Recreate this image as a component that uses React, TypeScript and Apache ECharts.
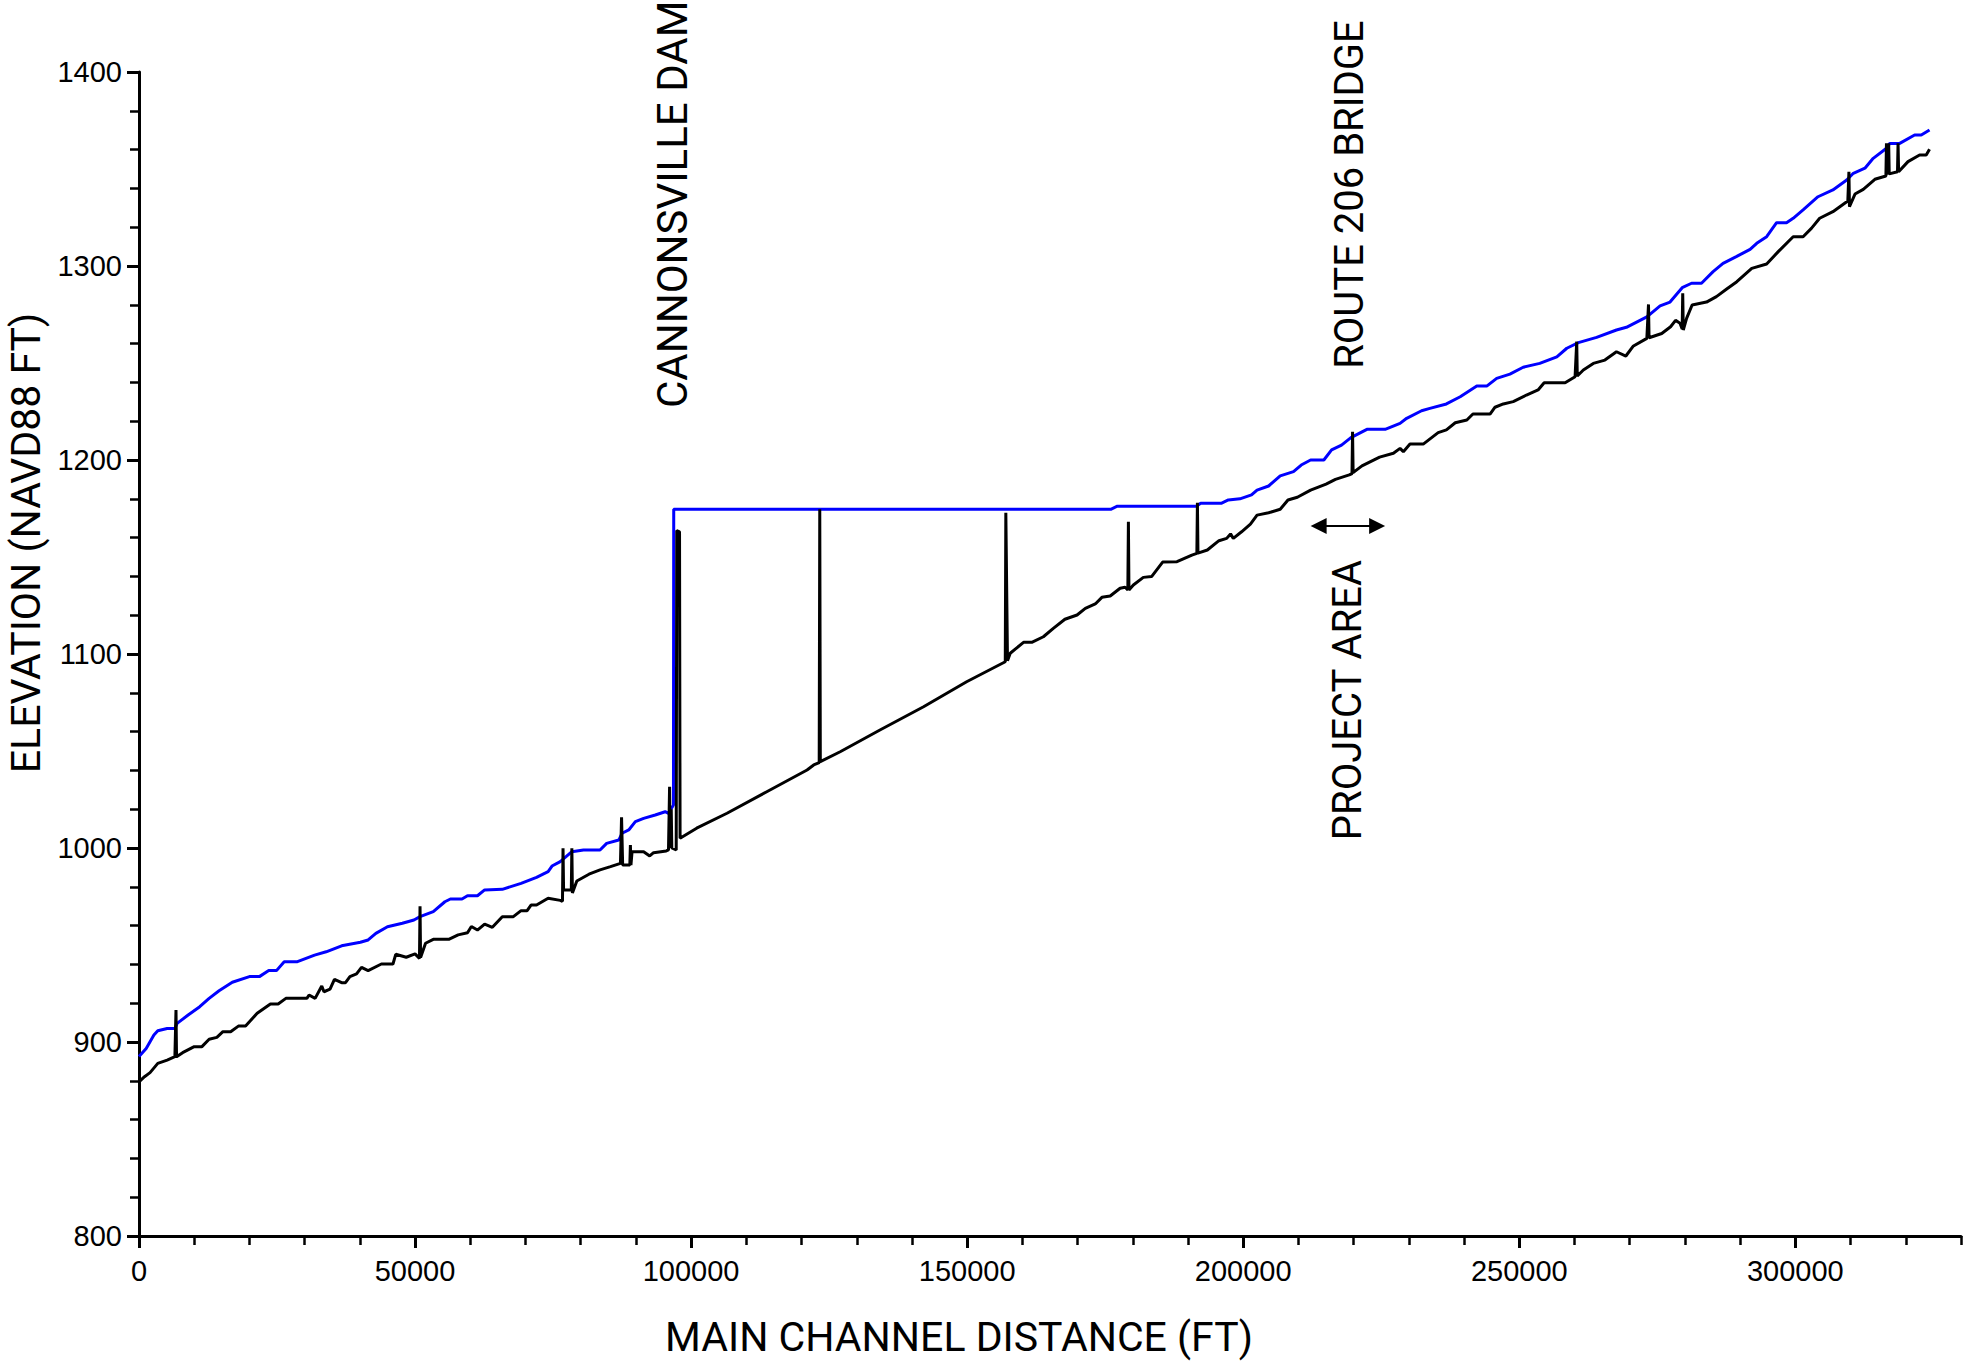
import React, { useEffect, useRef } from "react";
import * as echarts from "echarts";

// Water surface profile (blue): [main channel distance (ft), elevation (ft)]
const waterSurface: [number, number][] = [
  [0, 892.5], [1300, 896.7], [2700, 903.6], [3400, 905.8], [5100, 907], [6500, 907], [6900, 909.6],
  [8900, 913.9], [11000, 918.2], [12700, 922.5], [14500, 926.4], [16900, 930.8], [20000, 933.7],
  [21800, 933.7], [23500, 936.8], [24900, 936.8], [26300, 941.4], [28700, 941.4], [31800, 944.8],
  [33900, 946.5], [36700, 949.6], [40100, 951.4], [41500, 952.6], [42900, 956], [45000, 959.4],
  [47700, 961.2], [49800, 962.9], [50900, 964.6], [53300, 967.2], [55400, 972.3], [56400, 973.7],
  [58500, 973.7], [59500, 975.4], [61300, 975.4], [62600, 978.4], [65800, 978.7], [69200, 981.8],
  [72000, 984.9], [74100, 987.8], [74800, 990.7], [76300, 993], [78400, 998.1], [80500, 999],
  [83500, 999], [84700, 1002.4], [86900, 1004.1], [87500, 1007.6], [88700, 1009.3], [89900, 1013.6],
  [91400, 1015.3], [93500, 1017], [95300, 1018.7], [95900, 1017.9], [96800, 1022.2], [96850, 1174.6],
  [176000, 1174.6], [177200, 1176.2], [191500, 1176.2], [192300, 1177.7], [196000, 1177.7],
  [197300, 1179.4], [199400, 1180], [201500, 1182], [202500, 1184.5], [204600, 1186.6],
  [206700, 1191.8], [209100, 1194], [210500, 1197.4], [212200, 1200], [214600, 1200], [216000, 1205.2],
  [217800, 1207.7], [219500, 1211.5], [222400, 1215.8], [225700, 1215.8], [228400, 1218.9],
  [229600, 1221.5], [232300, 1225.4], [233800, 1226.6], [236800, 1228.9], [239300, 1232.6],
  [242300, 1238.1], [244100, 1238.1], [245900, 1242.1], [248300, 1244.3], [250700, 1247.8],
  [253700, 1249.8], [256800, 1253.2], [258600, 1257.6], [260700, 1260.5], [264000, 1263.2],
  [267600, 1267], [269400, 1268.4], [273100, 1273.8], [275500, 1279.4], [277300, 1281.4],
  [279500, 1288.8], [281200, 1291.1], [283000, 1291.1], [285100, 1297.1], [286900, 1301.4],
  [289300, 1304.8], [291800, 1308.6], [293000, 1311.7], [294800, 1315.1], [296600, 1322.3],
  [298400, 1322.3], [299600, 1324.6], [301400, 1328.9], [304100, 1335.7], [306800, 1339.2],
  [309300, 1344.3], [310500, 1347.8], [312600, 1350.4], [314100, 1355.5], [316500, 1360.7],
  [317100, 1363.2], [318900, 1363.2], [321600, 1367.5], [322800, 1367.5], [324300, 1370.1],
];

// Channel bed / structure profile (black): [distance (ft), elevation (ft)]
const channelBed: [number, number][] = [
  [0, 879.5], [1000, 882.1], [2000, 884.2], [3400, 889], [5100, 890.7], [6500, 892.4], [6700, 916.5],
  [6800, 892.4], [7900, 894.5], [10000, 897.6], [11400, 897.6], [12700, 901.4], [14100, 902.4],
  [15200, 905.3], [16600, 905.3], [18000, 908.2], [19300, 908.2], [21400, 914.8], [23800, 919.6],
  [25200, 919.6], [26600, 922.5], [30400, 922.5], [30800, 924.2], [31900, 922.5], [33100, 928.9],
  [33500, 925.9], [34600, 927.2], [35400, 932.3], [36700, 930.6], [37400, 930.6], [38200, 933.7],
  [39400, 935.1], [40300, 938.5], [41500, 936.8], [43900, 940.2], [46000, 940.2], [46500, 945.2],
  [48400, 943.7], [50000, 945.4], [50800, 943.1], [50900, 970], [51000, 943.5], [51900, 950.9],
  [53300, 952.9], [56100, 952.9], [57800, 955.2], [59500, 956.3], [60200, 959.5], [61300, 957.7],
  [62600, 960.8], [64000, 959.1], [65800, 964.6], [67800, 964.6], [69200, 967.7], [70300, 967.7],
  [71000, 970.6], [72000, 970.6], [74100, 974.1], [76300, 973], [76700, 972.5], [76800, 999.9],
  [76900, 978.4], [78300, 978.4], [78400, 999.9], [78500, 976.8], [79300, 983], [81500, 986.5],
  [83500, 988.7], [85400, 990.4], [87200, 992.1], [87400, 1015.8], [87600, 991.2], [88900, 991.2],
  [89000, 1001.5], [89100, 991.2], [89300, 998.1], [91400, 998.1], [92500, 995.9], [93200, 997.6],
  [95500, 998.5], [95900, 999], [96100, 1031.6], [96200, 1000], [96400, 1020], [96500, 1000],
  [97300, 999], [97400, 1163.6], [97900, 1163], [98000, 1005], [101000, 1010.2], [106500, 1017.9],
  [113700, 1029], [121000, 1040.2], [122200, 1042.8], [123200, 1044], [123300, 1174.6],
  [123400, 1044.5], [127000, 1049.6], [134200, 1060.8], [142100, 1072.8], [149900, 1085.7],
  [156900, 1096], [157000, 1172.8], [157300, 1096.5], [157800, 1100.4], [160200, 1106],
  [161700, 1106], [163800, 1108.9], [165600, 1113.2], [167700, 1117.9], [169900, 1120.1],
  [171400, 1123.5], [173200, 1125.8], [174400, 1129.2], [175900, 1129.9], [177700, 1133.9],
  [178600, 1134.4], [179100, 1133], [179200, 1168.2], [179300, 1133], [180100, 1135.6],
  [181900, 1139.5], [183400, 1139.9], [185400, 1147.4], [188000, 1147.6], [190700, 1151],
  [191600, 1151.9], [191700, 1178], [191800, 1152], [193500, 1153.6], [195600, 1158.4],
  [197000, 1159.6], [197700, 1161.9], [198200, 1159.6], [199700, 1163], [201300, 1167],
  [202500, 1171.6], [204600, 1172.8], [206700, 1174.6], [208100, 1179.4], [209800, 1180.8],
  [212200, 1184.5], [215000, 1187.6], [216700, 1190], [219200, 1192.3], [219700, 1193],
  [219800, 1214.6], [219900, 1193.5], [221500, 1197], [224700, 1201.5], [227200, 1203.5],
  [228400, 1206], [229000, 1204.3], [230200, 1208.2], [232600, 1208.2], [235300, 1214.1],
  [236800, 1215.5], [238400, 1219.2], [240500, 1220.6], [241600, 1223.7], [244700, 1223.7],
  [245600, 1227.2], [247100, 1228.9], [248900, 1230.1], [251300, 1233.5], [253400, 1236.1],
  [254500, 1239.8], [258300, 1239.8], [260100, 1242.9], [260400, 1261], [260500, 1243.3],
  [261600, 1246.4], [263400, 1249.8], [265500, 1251.5], [267600, 1255.8], [269300, 1253.6],
  [270600, 1258.6], [273100, 1262.7], [273400, 1280.2], [273500, 1263], [275800, 1265.2],
  [277400, 1268.7], [278300, 1272], [279100, 1270.5], [279500, 1267.5], [279600, 1286],
  [279700, 1267], [280300, 1273], [281300, 1279.9], [283900, 1281.4], [285700, 1284.2],
  [287500, 1288], [289400, 1291.9], [292100, 1298.8], [294800, 1301], [296900, 1307.4],
  [299600, 1315.1], [301400, 1315.1], [302900, 1319.4], [304400, 1324.6], [306800, 1328],
  [309500, 1333.5], [309700, 1348.6], [309800, 1330.6], [310800, 1337.1], [312300, 1339.5],
  [314400, 1344.7], [316400, 1346.4], [316500, 1363.2], [316700, 1347], [316900, 1363.2],
  [317000, 1347.5], [318500, 1348.6], [318600, 1363.2], [318700, 1348.6], [320400, 1353.8],
  [322500, 1357.2], [323700, 1357.2], [324300, 1360.2],
];

const xTitle = "MAIN CHANNEL DISTANCE (FT)";
const yTitle = "ELEVATION (NAVD88 FT)";
const xRange = [0, 330000];
const yRange = [800, 1400];

// Vertical annotation texts anchored at [distance, elevation] where the text starts
const annotationTexts = ["CANNONSVILLE DAM", "ROUTE 206 BRIDGE", "PROJECT AREA"];
const annotationDist = [96600, 219300, 218950];
const annotationElev = [1226.8, 1247, 1004];
const annotationSize = [42, 40, 40];

// Project area double arrow, in data units
const arrowDist = [212200, 225700];
const arrowElev = 1166;

const TICK_FONT = "'Liberation Sans', Arial, sans-serif";
const TITLE_FONT = "Roboto, 'Liberation Sans', sans-serif";

export default function App() {
  const ref = useRef<HTMLDivElement>(null);

  useEffect(() => {
    if (!ref.current) return;
    const chart = echarts.init(ref.current, null, { renderer: "svg" });
    const option: any = {
      animation: false,
      backgroundColor: "#ffffff",
      grid: { left: 139, right: 15, top: 72, bottom: 128, containLabel: false, outerBoundsMode: "none" },
      xAxis: [
        {
          type: "value",
          min: xRange[0],
          max: xRange[1],
          interval: 50000,
          position: "bottom",
          name: xTitle,
          nameLocation: "middle",
          nameGap: 80,
          nameTextStyle: {
            fontFamily: TITLE_FONT,
            fontSize: 41,
            color: "#000",
            padding: [0, 182, 0, 0],
          },
          axisLine: { show: true, onZero: false, lineStyle: { color: "#000", width: 3 } },
          axisTick: { show: true, length: 12, lineStyle: { color: "#000", width: 3 } },
          axisLabel: {
            show: true,
            showMaxLabel: false,
            margin: 20,
            fontFamily: TICK_FONT,
            fontSize: 29,
            color: "#000",
            formatter: (v: number) => String(v),
          },
          splitLine: { show: false },
        },
        {
          type: "value",
          min: xRange[0],
          max: xRange[1],
          interval: 10000,
          position: "bottom",
          axisLine: { show: false, onZero: false },
          axisTick: { show: true, length: 9, lineStyle: { color: "#000", width: 2.5 } },
          axisLabel: { show: false },
          splitLine: { show: false },
        },
      ],
      yAxis: {
        type: "value",
        min: yRange[0],
        max: yRange[1],
        interval: 100,
        name: yTitle,
        nameLocation: "middle",
        nameRotate: 90,
        nameGap: 93,
        nameTextStyle: {
          fontFamily: TITLE_FONT,
          fontSize: 41,
          color: "#000",
          padding: [0, 0, 0, 222],
        },
        axisLine: { show: true, onZero: false, lineStyle: { color: "#000", width: 3 } },
        axisTick: { show: true, length: 12, lineStyle: { color: "#000", width: 3 } },
        minorTick: { show: true, splitNumber: 5, length: 9, lineStyle: { color: "#000", width: 2.5 } },
        axisLabel: {
          margin: 17,
          fontFamily: TICK_FONT,
          fontSize: 29,
          color: "#000",
          formatter: (v: number) => String(v),
        },
        splitLine: { show: false },
        minorSplitLine: { show: false },
      },
      series: [
        {
          name: "Water Surface",
          type: "line",
          xAxisIndex: 0,
          yAxisIndex: 0,
          data: waterSurface,
          showSymbol: false,
          symbol: "none",
          smooth: false,
          lineStyle: { color: "#0000ff", width: 3 },
          z: 2,
        },
        {
          name: "Channel Bed",
          type: "line",
          xAxisIndex: 0,
          yAxisIndex: 0,
          data: channelBed,
          showSymbol: false,
          symbol: "none",
          smooth: false,
          lineStyle: { color: "#000000", width: 3 },
          z: 3,
        },
      ],
    };
    chart.setOption(option);

    const px = (d: number, e: number): number[] =>
      chart.convertToPixel({ seriesIndex: 0 }, [d, e]) as number[];

    const graphics: any[] = [];
    annotationTexts.forEach((t, i) => {
      const [x, y] = px(annotationDist[i], annotationElev[i]);
      graphics.push({
        type: "text",
        x,
        y,
        rotation: Math.PI / 2,
        z: 10,
        style: {
          text: t,
          fontFamily: TITLE_FONT,
          fontSize: annotationSize[i],
          fill: "#000",
          align: "left",
          verticalAlign: "middle",
          textAlign: "left",
          textVerticalAlign: "middle",
        },
      });
    });
    const [ax1, ay] = px(arrowDist[0], arrowElev);
    const [ax2] = px(arrowDist[1], arrowElev);
    const head = 16;
    const half = 8;
    graphics.push({
      type: "line",
      z: 10,
      shape: { x1: ax1 + head - 2, y1: ay, x2: ax2 - head + 2, y2: ay },
      style: { stroke: "#000", lineWidth: 2 },
    });
    graphics.push({
      type: "polygon",
      z: 10,
      shape: { points: [[ax1, ay], [ax1 + head, ay - half], [ax1 + head, ay + half]] },
      style: { fill: "#000" },
    });
    graphics.push({
      type: "polygon",
      z: 10,
      shape: { points: [[ax2, ay], [ax2 - head, ay - half], [ax2 - head, ay + half]] },
      style: { fill: "#000" },
    });
    chart.setOption({ graphic: graphics });

    return () => {
      chart.dispose();
    };
  }, []);

  return (
    <div
      ref={ref}
      style={{ position: "fixed", left: 0, top: 0, width: 1976, height: 1364, background: "#fff" }}
    />
  );
}
